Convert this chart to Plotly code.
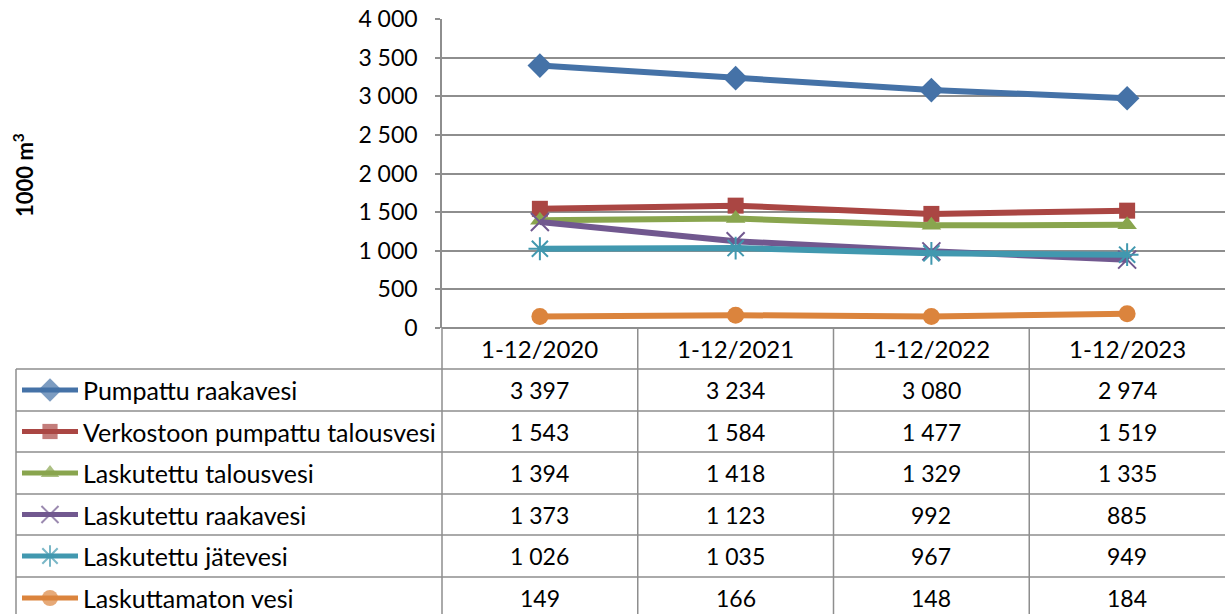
import plotly.graph_objects as go

categories = ["1-12/2020", "1-12/2021", "1-12/2022", "1-12/2023"]
series_names = [
    "Pumpattu raakavesi",
    "Verkostoon pumpattu talousvesi",
    "Laskutettu talousvesi",
    "Laskutettu raakavesi",
    "Laskutettu jätevesi",
    "Laskuttamaton vesi",
]
pumpattu_raakavesi = [3397, 3234, 3080, 2974]
verkostoon_talousvesi = [1543, 1584, 1477, 1519]
laskutettu_talousvesi = [1394, 1418, 1329, 1335]
laskutettu_raakavesi = [1373, 1123, 992, 885]
laskutettu_jatevesi = [1026, 1035, 967, 949]
laskuttamaton_vesi = [149, 166, 148, 184]
y_ticks = [0, 500, 1000, 1500, 2000, 2500, 3000, 3500, 4000]
y_title = "1000 m<sup>3</sup>"

values = [pumpattu_raakavesi, verkostoon_talousvesi, laskutettu_talousvesi,
          laskutettu_raakavesi, laskutettu_jatevesi, laskuttamaton_vesi]

colors = ["#4572A7", "#AA4643", "#89A54E", "#71588F", "#4198AF", "#DB843D"]
symbols = ["diamond", "square", "triangle-up", "x-thin-open", "asterisk-open", "circle"]
msizes = [19, 16, 17, 18, 19, 17]

W, H = 1225, 614
px_left, px_right = 442, 1225
px_top, px_zero = 19, 328
row_tops = [369, 411, 452, 494, 535, 577, 619]
header_top = 328
table_left = 16
grid_col = "#8E8E8E"
FONT = "Lato"
FS = 24

fig = go.Figure()

for name, vals, c, sym, ms in zip(series_names, values, colors, symbols, msizes):
    open_sym = sym.endswith("open")
    fig.add_trace(go.Scatter(
        x=categories, y=vals, name=name, mode="lines+markers",
        line=dict(color=c, width=6),
        marker=dict(symbol=sym, size=ms, color=c,
                    line=dict(color=c, width=2 if open_sym else 0)),
        xaxis="x", yaxis="y", showlegend=False, hoverinfo="skip",
        cliponaxis=False,
    ))

ncol = len(categories)
colw = (px_right - px_left) / ncol

# legend keys in table rows
for i, (name, c, sym, ms) in enumerate(zip(series_names, colors, symbols, msizes)):
    yc = (row_tops[i] + row_tops[i + 1]) / 2
    open_sym = sym.endswith("open")
    fig.add_trace(go.Scatter(
        x=[22, 50, 78], y=[yc, yc, yc], mode="lines+markers",
        line=dict(color=c, width=5),
        marker=dict(symbol=sym, size=[0, ms * 0.95, 0], color=c,
                    line=dict(color=c, width=2 if open_sym else 0)),
        xaxis="x2", yaxis="y2", showlegend=False, hoverinfo="skip",
    ))

shapes = []
line_style = dict(color=grid_col, width=1.5)
for yt in row_tops[:-1]:
    shapes.append(dict(type="line", xref="x2", yref="y2", x0=table_left, x1=W,
                       y0=yt, y1=yt, line=line_style))
shapes.append(dict(type="line", xref="x2", yref="y2", x0=table_left, x1=table_left,
                   y0=row_tops[0], y1=H, line=line_style))
shapes.append(dict(type="line", xref="x2", yref="y2", x0=px_left, x1=px_left,
                   y0=header_top, y1=H, line=line_style))
for j in range(1, ncol):
    xv = px_left + j * colw
    shapes.append(dict(type="line", xref="x2", yref="y2", x0=xv, x1=xv,
                       y0=header_top, y1=H, line=line_style))

annotations = []
tfont = dict(family=FONT, size=FS, color="#000")
for j, cat in enumerate(categories):
    xc = px_left + (j + 0.5) * colw
    annotations.append(dict(x=xc, y=(header_top + row_tops[0]) / 2, xref="x2", yref="y2",
                            text=cat, showarrow=False, font=tfont))
    for i, vals in enumerate(values):
        yc = (row_tops[i] + row_tops[i + 1]) / 2
        annotations.append(dict(x=xc, y=yc, xref="x2", yref="y2",
                                text=f"{vals[j]:,}".replace(",", " "), showarrow=False,
                                font=dict(family=FONT, size=23, color="#000")))
for i, name in enumerate(series_names):
    yc = (row_tops[i] + row_tops[i + 1]) / 2
    annotations.append(dict(x=81, y=yc, xref="x2", yref="y2", xanchor="left",
                            text=name, showarrow=False,
                            font=dict(family=FONT, size=25, color="#000")))
annotations.append(dict(x=23, y=175, xref="x2", yref="y2", text="<b>" + y_title + "</b>",
                        textangle=-90, showarrow=False,
                        font=dict(family=FONT, size=22, color="#000")))

fig.update_layout(
    template="none",
    width=W, height=H,
    margin=dict(l=0, r=0, t=0, b=0, pad=0, autoexpand=False),
    paper_bgcolor="white", plot_bgcolor="rgba(0,0,0,0)",
    separators=", ",
    showlegend=False,
    xaxis=dict(domain=[px_left / W, px_right / W], type="category",
               categoryorder="array", categoryarray=categories,
               range=[-0.5, ncol - 0.5], showticklabels=False, ticks="",
               showgrid=False, zeroline=False, showline=False, fixedrange=True,
               automargin=False),
    yaxis=dict(domain=[1 - px_zero / H, 1 - px_top / H], range=[0, 4000],
               tickvals=y_ticks, tickformat=",d",
               showgrid=True, gridcolor=grid_col, gridwidth=1.5,
               showline=True, linecolor=grid_col, linewidth=1.5,
               zeroline=True, zerolinecolor=grid_col, zerolinewidth=2,
               ticks="outside", ticklen=5, tickcolor=grid_col, tickwidth=1.5,
               ticklabelstandoff=13, automargin=False,
               tickfont=dict(family=FONT, size=23, color="#000"), fixedrange=True),
    xaxis2=dict(domain=[0, 1], range=[0, W], visible=False, anchor="y2",
                fixedrange=True, automargin=False),
    yaxis2=dict(domain=[0, 1], range=[H, 0], visible=False, anchor="x2",
                fixedrange=True, automargin=False),
    shapes=shapes,
    annotations=annotations,
)

fig.write_html("out.html", config={"displayModeBar": False},
               post_script="document.body.style.margin='0';")
